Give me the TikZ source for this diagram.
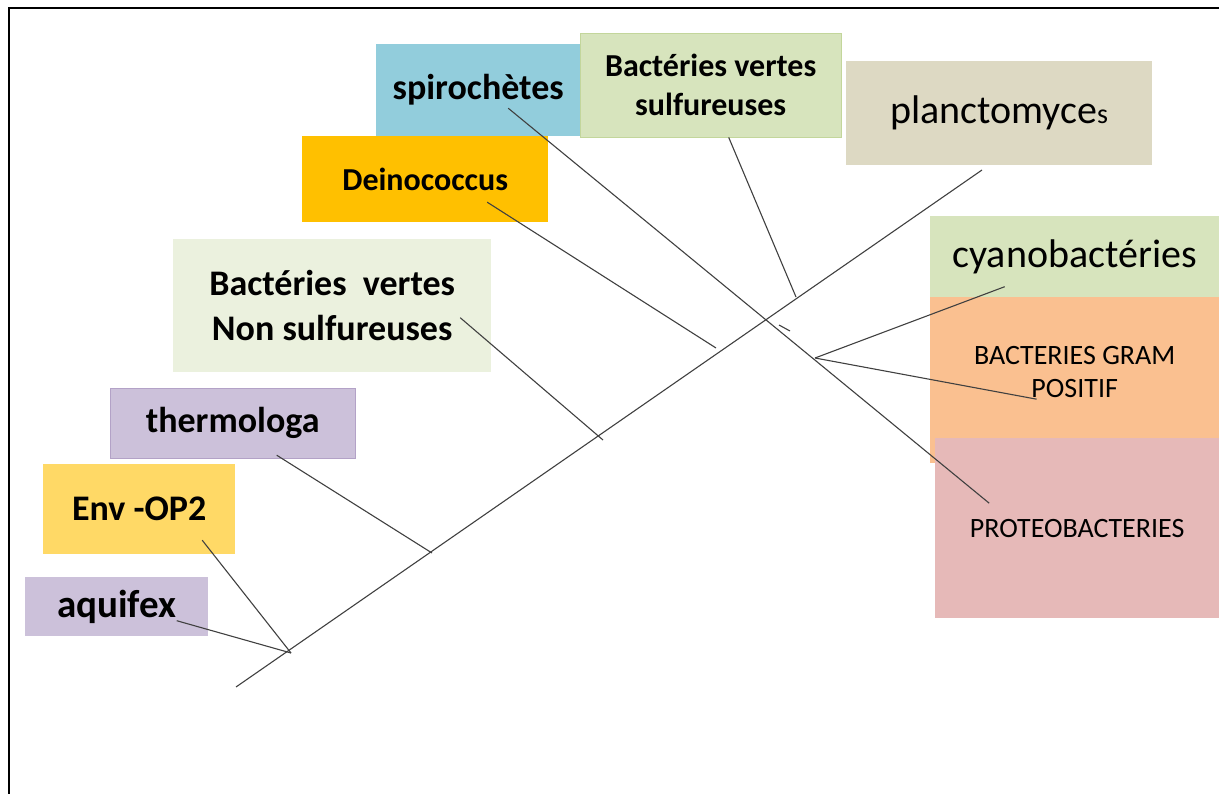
\documentclass[tikz,border=0pt]{standalone}
\usepackage{fontspec}
\setmainfont{Carlito}
\usepackage{tikz}
\usetikzlibrary{positioning, calc}
\definecolor{spiroblue}{HTML}{92CDDC}
\definecolor{sulfgreen}{HTML}{D7E4BD}
\definecolor{sulfedge}{HTML}{C3D69B}
\definecolor{planctgrey}{HTML}{DDD9C3}
\definecolor{deinoorange}{HTML}{FFC000}
\definecolor{nonsulfgreen}{HTML}{EBF1DE}
\definecolor{lilac}{HTML}{CCC1DA}
\definecolor{lilacedge}{HTML}{B3A2C7}
\definecolor{envyellow}{HTML}{FFD966}
\definecolor{gramorange}{HTML}{FAC090}
\definecolor{proteopink}{HTML}{E6B9B8}
\tikzstyle{taxon} = [rectangle, anchor=north west, inner sep=0pt, align=center]
\tikzstyle{boldbig} = [font=\bfseries\fontsize{36}{45}\selectfont]
\tikzstyle{boldmid} = [font=\bfseries\fontsize{32}{39}\selectfont]
\tikzstyle{plainbig} = [font=\fontsize{40}{48}\selectfont]
\tikzstyle{plainsmall} = [font=\fontsize{28}{33}\selectfont]
\tikzstyle{branch} = [draw, black!75, line width=1.1pt]

\begin{document}
\begin{tikzpicture}[x=1pt, y=-1pt]
            \useasboundingbox (0,0) rectangle (1219,794);
            \draw[line width=2pt] (9,794) -- (9,8) -- (1219,8);

            % boxes
            \node[taxon, boldbig, fill=spiroblue, minimum width=204, minimum height=92] (spiro) at (376,44) {spirochètes};
            \node[taxon, boldmid, fill=sulfgreen, draw=sulfedge, minimum width=261, minimum height=104] (sulf) at (580,33) {Bactéries vertes\\sulfureuses};
            \node[taxon, plainbig, fill=planctgrey, minimum width=306, minimum height=104] (planct) at (846,61) {planctomyce{\fontsize{28}{30}\selectfont s}};
            \node[taxon, boldmid, fill=deinoorange, minimum width=246, minimum height=86] (deino) at (302,136) {Deinococcus};
            \node[taxon, boldbig, fill=nonsulfgreen, minimum width=318, minimum height=133] (nonsulf) at (173,239) {Bactéries\ \ vertes\\Non sulfureuses};
            \node[taxon, boldbig, fill=lilac, draw=lilacedge, minimum width=245, minimum height=70] (thermo) at (110,388) {thermologa};
            \node[taxon, boldbig, fill=envyellow, minimum width=192, minimum height=90] (envop) at (43,464) {Env -OP2};
            \node[taxon, font=\bfseries\fontsize{39}{46}\selectfont, fill=lilac, minimum width=183, minimum height=59] (aquifex) at (25,577) {aquifex};
            \node[taxon, plainbig, fill=sulfgreen, minimum width=289, minimum height=81] (cyano) at (930,216) {cyanobactéries};
            \node[taxon, plainsmall, fill=gramorange, minimum width=289, minimum height=166] (gram) at (930,297) {BACTERIES GRAM\\POSITIF\\[-17pt]};
            \node[taxon, plainsmall, fill=proteopink, minimum width=284, minimum height=180] (proteo) at (935,438) {PROTEOBACTERIES};

            % trunk and branch points
            \coordinate (root) at (236,687);
            \coordinate (tip) at (982,170);
            \coordinate (jbase) at (291,653);
            \coordinate (jthermo) at (432,553);
            \coordinate (jnonsulf) at (603,440);
            \coordinate (jdeino) at (716,348);
            \coordinate (jsulf) at (796,297);
            \coordinate (jgram) at (815,358);
            \coordinate (tickA) at (779,325);
            \coordinate (tickB) at (790,331);

            \path [branch] (root) -- (tip);
            \path [branch] ($(spiro.center)+(30,18)$) -- ($(proteo.center)+(-88,-25)$);
            \path [branch] ($(sulf.south)+(18,0)$) -- (jsulf);
            \path [branch] ($(deino.center)+(62,23)$) -- (jdeino);
            \path [branch] ($(nonsulf.center)+(128,12)$) -- (jnonsulf);
            \path [branch] ($(thermo.center)+(44,32)$) -- (jthermo);
            \path [branch] ($(envop.center)+(63,31)$) -- (jbase);
            \path [branch] ($(aquifex.center)+(60,14)$) -- (jbase);
            \path [branch] ($(cyano.center)+(-70,30)$) -- (jgram);
            \path [branch] (jgram) -- ($(gram.center)+(-38,19)$);
            \path [branch] (tickA) -- (tickB);
      \end{tikzpicture}
\end{document}
